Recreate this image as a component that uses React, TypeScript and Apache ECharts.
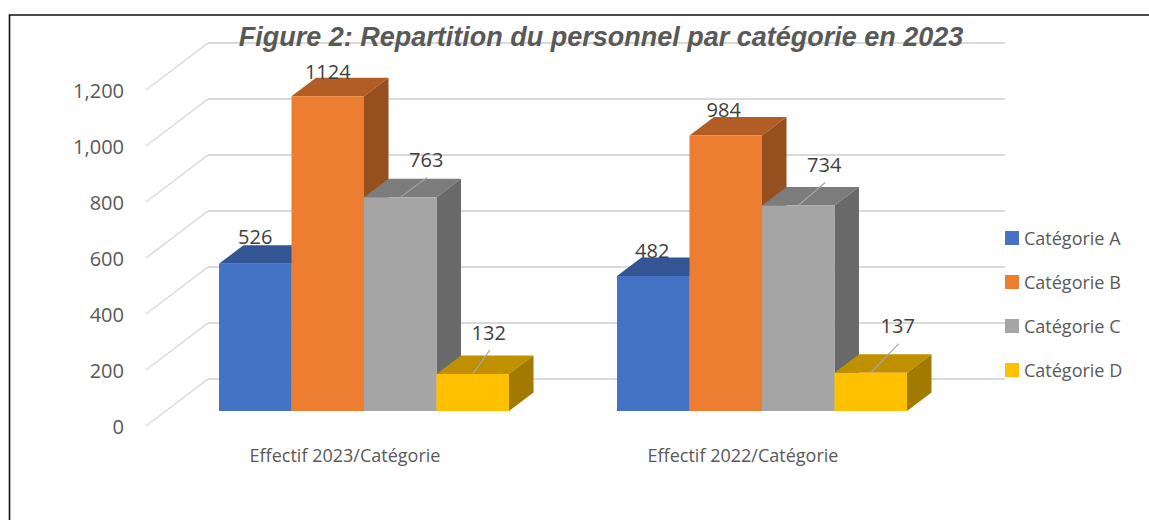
import React, { useEffect, useRef } from "react";
import * as echarts from "echarts";

const groups = ["Effectif 2023/Catégorie", "Effectif 2022/Catégorie"];
const seriesNames = ["Catégorie A", "Catégorie B", "Catégorie C", "Catégorie D"];
const categoryA = [526, 482];
const categoryB = [1124, 984];
const categoryC = [763, 734];
const categoryD = [132, 137];
const yTicks = [0, 200, 400, 600, 800, 1000, 1200];

const allValues = [categoryA, categoryB, categoryC, categoryD];

const frontColors = ["#4472C4", "#ED7D31", "#A5A5A5", "#FFC000"];
const topColors = ["#335593", "#B25D25", "#7C7C7C", "#BF9000"];
const sideColors = ["#2B4A80", "#964F1F", "#696969", "#A27A00"];

// Label placement relative to the top-centre of a bar's front face: [dx, dy, hasLeader]
const labelOffsets: [number, number, boolean][][] = [
  [[0, -27, false], [-1, -26, false]],
  [[0, -25, false], [-2, -26, false]],
  [[26, -38, true], [26, -41, true]],
  [[16, -42, true], [27, -47, true]],
];

const FONT = '"Open Sans", sans-serif';
const BAR_W = 72.5;
const BAR_DX = 24.5;
const BAR_DY = -18.5;
const FLOOR_DX = 19;
const FLOOR_DY = -15;
const WALL_DX = 62;
const WALL_DY = -47;

function barRenderer(si: number) {
  return (_params: any, api: any) => {
    const ci = api.value(0);
    const v = api.value(1);
    const top = api.coord([ci, v]);
    const base = api.coord([ci, 0]);
    const x0 = top[0] + FLOOR_DX + (si - 2) * BAR_W;
    const x1 = x0 + BAR_W;
    const yT = top[1] + FLOOR_DY;
    const yB = base[1] + FLOOR_DY;
    const [dx, dy, leader] = labelOffsets[si][ci];
    const cx = (x0 + x1) / 2;
    const children: any[] = [
      {
        type: "polygon",
        shape: { points: [[x0, yT], [x0 + BAR_DX, yT + BAR_DY], [x1 + BAR_DX, yT + BAR_DY], [x1, yT]] },
        style: { fill: topColors[si] },
      },
      {
        type: "polygon",
        shape: { points: [[x1, yT], [x1 + BAR_DX, yT + BAR_DY], [x1 + BAR_DX, yB + BAR_DY], [x1, yB]] },
        style: { fill: sideColors[si] },
      },
      { type: "rect", shape: { x: x0, y: yT, width: BAR_W, height: yB - yT }, style: { fill: frontColors[si] } },
    ];
    if (leader) {
      children.push({
        type: "line",
        shape: { x1: cx, y1: yT, x2: cx + dx + 1, y2: yT + dy + 18 },
        style: { stroke: "#A6A6A6", lineWidth: 1.2 },
      });
    }
    children.push({
      type: "text",
      x: cx + dx,
      y: yT + dy,
      style: { text: String(v), fill: "#404040", font: `20px ${FONT}`, align: "center", verticalAlign: "middle" },
    });
    return { type: "group", children };
  };
}

function diagonalRenderer(params: any, api: any) {
  const p = api.coord([0, api.value(1)]);
  const x = params.coordSys.x;
  return {
    type: "line",
    shape: { x1: x, y1: p[1], x2: x + WALL_DX, y2: p[1] + WALL_DY },
    style: { stroke: "#D9D9D9", lineWidth: 1.5 },
  };
}

export default function App() {
  const ref = useRef<HTMLDivElement>(null);
  useEffect(() => {
    document.body.style.margin = "0";
    const chart = echarts.init(ref.current!, undefined, { renderer: "svg" });
    chart.setOption({
      animation: false,
      backgroundColor: "#FFFFFF",
      title: {
        text: "Figure 2: Repartition du personnel par catégorie en 2023",
        left: 596,
        top: 18,
        textAlign: "center",
        textStyle: {
          fontFamily: '"Liberation Sans", Arial, sans-serif',
          fontSize: 27,
          fontWeight: "bold",
          fontStyle: "italic",
          color: "#595959",
        },
      },
      legend: {
        orient: "vertical",
        left: 1000,
        top: 222,
        itemWidth: 14,
        itemHeight: 14,
        itemGap: 22,
        icon: "rect",
        data: seriesNames,
        textStyle: { fontFamily: FONT, fontSize: 18, color: "#595959", height: 22, lineHeight: 22 },
      },
      grid: [
        { left: 146, top: 90, width: 796, height: 336 },
        { left: 208, top: 43, width: 797, height: 336 },
      ],
      xAxis: [
        {
          type: "category",
          gridIndex: 0,
          data: groups,
          axisLine: { show: false },
          axisTick: { show: false },
          axisLabel: { margin: 20, fontFamily: FONT, fontSize: 18, color: "#595959" },
        },
        { type: "category", gridIndex: 1, data: groups, show: false },
      ],
      yAxis: [
        {
          type: "value",
          gridIndex: 0,
          min: 0,
          max: 1200,
          interval: 200,
          axisLine: { show: false },
          axisTick: { show: false },
          splitLine: { show: false },
          axisLabel: { margin: 22, fontFamily: FONT, fontSize: 20, color: "#595959" },
        },
        {
          type: "value",
          gridIndex: 1,
          min: 0,
          max: 1200,
          interval: 200,
          axisLine: { show: false },
          axisTick: { show: false },
          axisLabel: { show: false },
          splitLine: { show: true, lineStyle: { color: "#D9D9D9", width: 2 } },
        },
      ],
      series: [
        {
          type: "custom",
          name: "walls",
          xAxisIndex: 0,
          yAxisIndex: 0,
          renderItem: diagonalRenderer,
          data: yTicks.map((t) => [0, t]),
          encode: { x: 0, y: 1 },
          silent: true,
          z: 1,
        },
        ...seriesNames.map((name, si) => ({
          type: "custom",
          name,
          xAxisIndex: 0,
          yAxisIndex: 0,
          itemStyle: { color: frontColors[si] },
          renderItem: barRenderer(si),
          data: allValues[si].map((v, ci) => [ci, v]),
          encode: { x: 0, y: 1 },
          z: 2 + si,
        })),
      ],
      graphic: [
        {
          type: "polyline",
          shape: { points: [[9.5, 520], [9.5, 15], [1149, 15]] },
          style: { stroke: "#111111", lineWidth: 1.6, fill: "none" },
          silent: true,
        },
      ],
    });
    return () => chart.dispose();
  }, []);
  return <div ref={ref} style={{ width: 1149, height: 520 }} />;
}
